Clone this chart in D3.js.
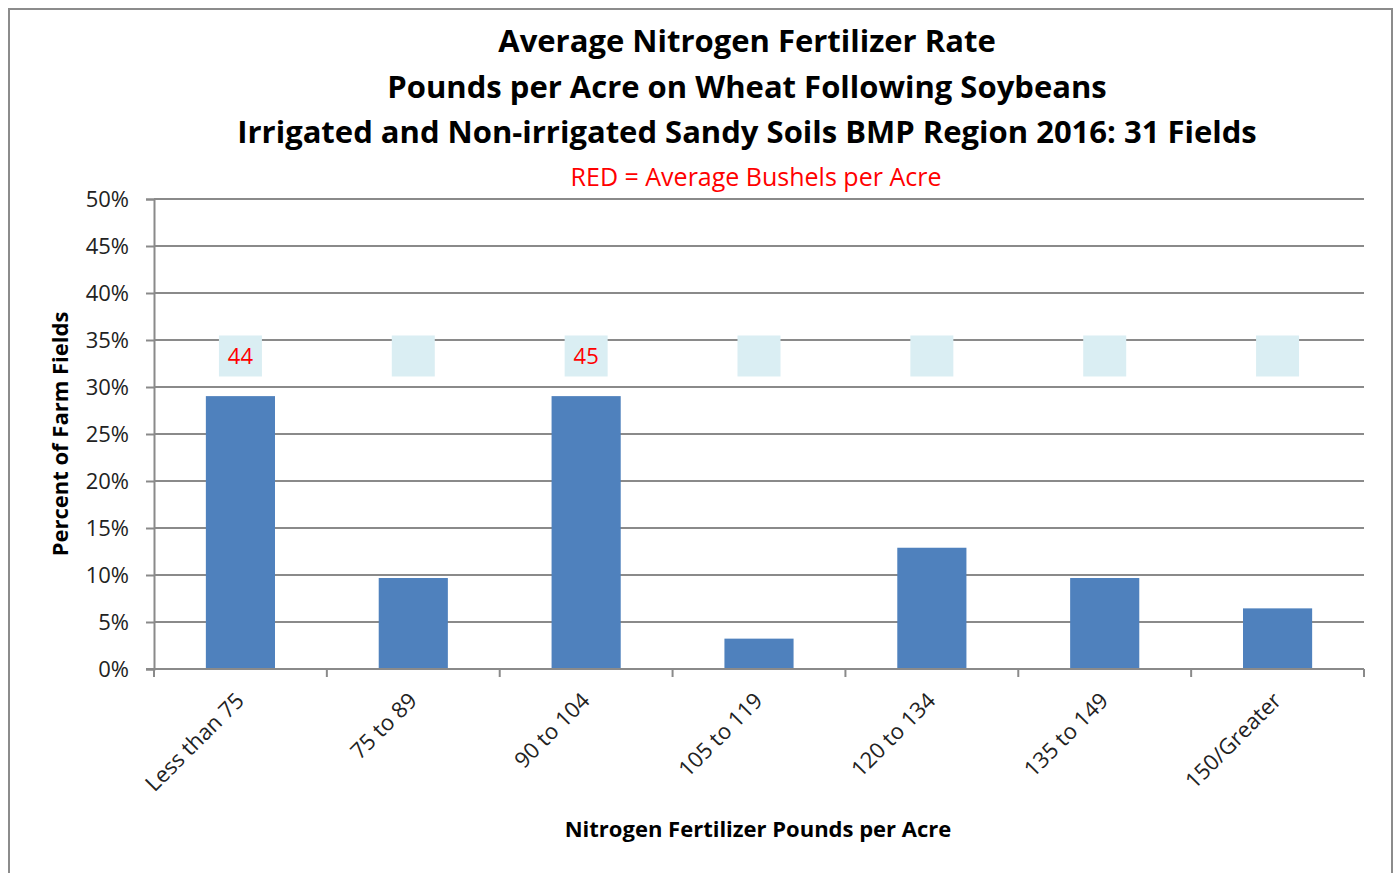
<!DOCTYPE html>
<html>
<head>
<meta charset="utf-8">
<script src="https://cdn.jsdelivr.net/npm/d3@7"></script>
<style>
  body { margin: 0; background: #fff; }
  svg { display: block; font-family: "Open Sans", Calibri, sans-serif; }
</style>
</head>
<body>
<div id="chart"></div>
<script>
var categories = ["Less than 75", "75 to 89", "90 to 104", "105 to 119", "120 to 134", "135 to 149", "150/Greater"];
var percentFields = [29.03, 9.68, 29.03, 3.23, 12.9, 9.68, 6.45];
var bushelLabels = ["44", "", "45", "", "", "", ""];
var yTicks = [0, 5, 10, 15, 20, 25, 30, 35, 40, 45, 50];
var titleLines = [
    "Average Nitrogen Fertilizer Rate",
    "Pounds per Acre on Wheat Following Soybeans",
    "Irrigated and Non-irrigated Sandy Soils BMP Region 2016: 31 Fields"
];

var
    width = 1396,
    height = 873,
    plotLeft = 154,
    plotRight = 1364,
    plotTop = 199,
    plotBottom = 669,
    svg = d3.select("#chart").append("svg").attr("width", width).attr("height", height);

// outer frame
svg.append("rect")
    .attr("x", 9).attr("y", 9)
    .attr("width", 1383).attr("height", 880)
    .attr("fill", "none").attr("stroke", "#8c8c8c").attr("stroke-width", 2);

var
    x = d3.scaleBand().domain(categories).range([plotLeft, plotRight]).paddingInner(0.6).paddingOuter(0.3),
    xOuter = d3.scaleBand().domain(categories).range([plotLeft, plotRight]),
    y = d3.scaleLinear().domain([0, 50]).range([plotBottom, plotTop]);

// gridlines
svg.append("g")
    .selectAll("line")
    .data(yTicks.slice(1))
    .enter()
    .append("line")
    .attr("x1", plotLeft).attr("x2", plotRight)
    .attr("y1", function(d){ return y(d); })
    .attr("y2", function(d){ return y(d); })
    .attr("stroke", "#8a8a8a").attr("stroke-width", 2);

// y axis
var yAxis = svg.append("g")
    .attr("transform", "translate(" + plotLeft + ",0)")
    .call(d3.axisLeft(y).tickValues(yTicks).tickSize(8).tickPadding(17).tickFormat(function(d){ return d + "%"; }));
yAxis.select(".domain").attr("stroke", "#8a8a8a").attr("stroke-width", 2);
yAxis.selectAll(".tick line").attr("stroke", "#8a8a8a").attr("stroke-width", 2);
yAxis.selectAll(".tick text").attr("font-size", 22).attr("fill", "#222").attr("dy", "0.34em")
    .attr("font-family", "Open Sans");

// bars
svg.append("g")
    .selectAll("rect")
    .data(percentFields)
    .enter()
    .append("rect")
    .attr("x", function(d, i){ return x(categories[i]); })
    .attr("width", x.bandwidth())
    .attr("y", function(d){ return y(d); })
    .attr("height", function(d){ return y(0) - y(d); })
    .attr("fill", "#4f81bd");

// x axis
var xAxisG = svg.append("g").attr("transform", "translate(0," + plotBottom + ")");
xAxisG.append("line")
    .attr("x1", plotLeft - 8).attr("x2", plotRight)
    .attr("stroke", "#8a8a8a").attr("stroke-width", 2);
xAxisG.selectAll("line.tk")
    .data(categories.concat(["end"]))
    .enter()
    .append("line")
    .attr("class", "tk")
    .attr("x1", function(d, i){ return plotLeft + i * xOuter.step(); })
    .attr("x2", function(d, i){ return plotLeft + i * xOuter.step(); })
    .attr("y1", 0).attr("y2", 8)
    .attr("stroke", "#8a8a8a").attr("stroke-width", 2);
xAxisG.selectAll("text")
    .data(categories)
    .enter()
    .append("text")
    .attr("transform", function(d){ return "translate(" + (xOuter(d) + xOuter.bandwidth() / 2 + 5) + ",33) rotate(-45)"; })
    .attr("text-anchor", "end")
    .attr("font-size", 22)
    .attr("fill", "#222")
    .text(function(d){ return d; });

// yield boxes
var boxes = svg.append("g")
    .selectAll("g")
    .data(bushelLabels)
    .enter()
    .append("g")
    .attr("transform", function(d, i){ return "translate(" + (xOuter(categories[i]) + xOuter.bandwidth() / 2) + "," + y(33.3) + ")"; });
boxes.append("rect")
    .attr("x", -21.5).attr("y", -20.5)
    .attr("width", 43).attr("height", 41)
    .attr("fill", "#daeef3");
boxes.append("text")
    .attr("text-anchor", "middle")
    .attr("y", 8)
    .attr("font-size", 22)
    .attr("fill", "#ff0000")
    .text(function(d){ return d; });

// titles
svg.append("g")
    .selectAll("text")
    .data(titleLines)
    .enter()
    .append("text")
    .attr("x", 747)
    .attr("y", function(d, i){ return 52 + i * 45.5; })
    .attr("text-anchor", "middle")
    .attr("font-size", 31)
    .attr("font-weight", "bold")
    .attr("fill", "#000")
    .text(function(d){ return d; });

svg.append("text")
    .attr("x", 756).attr("y", 186)
    .attr("text-anchor", "middle")
    .attr("font-size", 25)
    .attr("fill", "#ff0000")
    .text("RED = Average Bushels per Acre");

svg.append("text")
    .attr("transform", "translate(68," + ((plotTop + plotBottom) / 2) + ") rotate(-90)")
    .attr("text-anchor", "middle")
    .attr("font-size", 22)
    .attr("font-weight", "bold")
    .text("Percent of Farm Fields");

svg.append("text")
    .attr("x", 758).attr("y", 837)
    .attr("text-anchor", "middle")
    .attr("font-size", 22)
    .attr("font-weight", "bold")
    .text("Nitrogen Fertilizer Pounds per Acre");
</script>
</body>
</html>
